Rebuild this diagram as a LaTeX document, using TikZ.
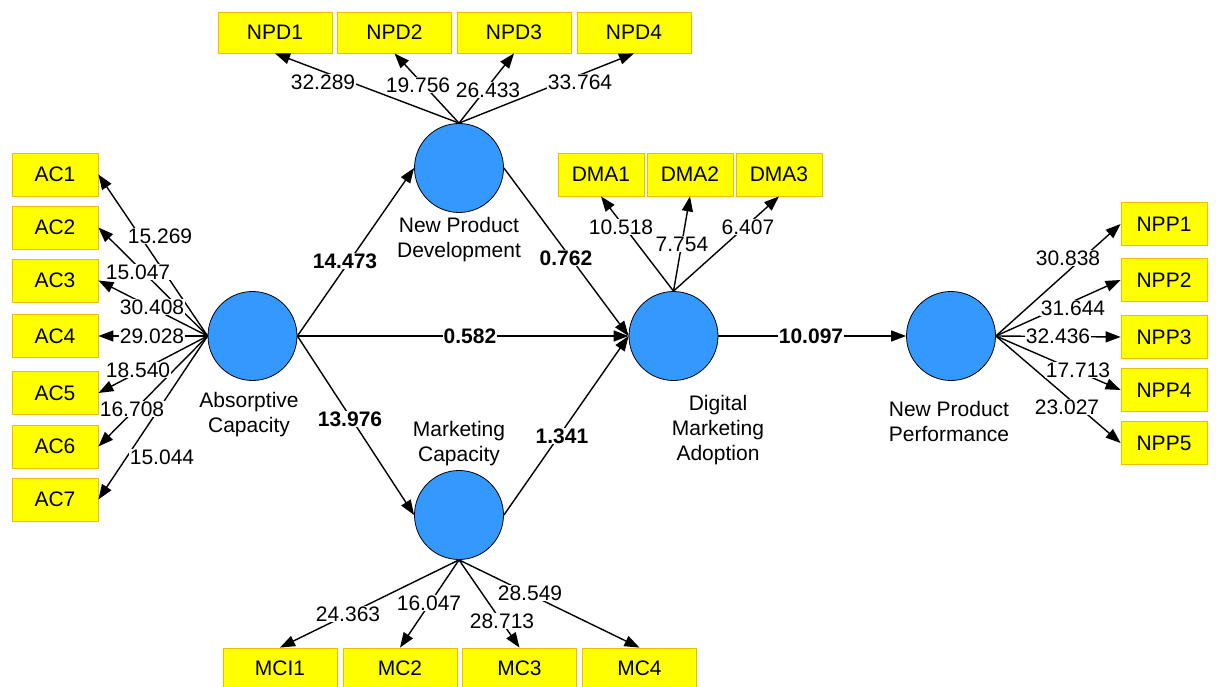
\documentclass[tikz,border=0pt]{standalone}
\usepackage{fontspec}
\setmainfont{Liberation Sans}
\usepackage{xcolor}
\usetikzlibrary{arrows.meta}
\usetikzlibrary{positioning}

\definecolor{lvblue}{RGB}{51,153,255}
\definecolor{mvyellow}{RGB}{255,255,0}
\definecolor{mvedge}{RGB}{240,190,0}

\tikzset{
  lv/.style={circle, draw=black, fill=lvblue, minimum size=89pt, inner sep=0pt, line width=0.8pt},
  mv/.style={rectangle, draw=mvedge, fill=mvyellow, line width=0.8pt, minimum width=86pt, minimum height=43pt, inner sep=0pt, font=\fontsize{21}{25}\selectfont},
  mvwide/.style={mv, minimum width=114pt, minimum height=41pt},
  load/.style={-{Triangle[length=15pt,width=11pt]}, line width=1.4pt},
  wt/.style={fill=white, inner sep=1pt, font=\fontsize{21}{25}\selectfont},
  coef/.style={fill=white, inner sep=1pt, font=\fontsize{21}{25}\selectfont\bfseries},
  lvname/.style={align=center, font=\fontsize{21}{25}\selectfont}
}

\begin{document}
\begin{tikzpicture}[x=1pt, y=-1pt]
        \useasboundingbox (0,0) rectangle (1216,687);

        % constructs
        \node[lv] (ac) at (252.5,336) {};
        \node[lv] (npd) at (459,168) {};
        \node[lv] (mc) at (459,515) {};
        \node[lv] (dma) at (673.5,336) {};
        \node[lv] (npp) at (951,336) {};

        % construct names
        \node[lvname] (acname) at (249,415) {Absorptive\\Capacity};
        \node[lvname] (npdname) at (459,240) {New Product\\Development};
        \node[lvname] (mcname) at (459,444) {Marketing\\Capacity};
        \node[lvname] (dmaname) at (718,430) {Digital\\Marketing\\Adoption};
        \node[lvname] (nppname) at (949,421) {New Product\\Performance};

        % indicators
        \node[mv] (ac1) at (55,174.5) {AC1};
        \node[mv] (ac2) at (55,227.5) {AC2};
        \node[mv] (ac3) at (55,280.5) {AC3};
        \node[mv] (ac4) at (55,336) {AC4};
        \node[mv] (ac5) at (55,393) {AC5};
        \node[mv] (ac6) at (55,446.5) {AC6};
        \node[mv] (ac7) at (55,499.5) {AC7};

        \node[mvwide] (npd1) at (275,32.5) {NPD1};
        \node[mvwide] (npd2) at (394.5,32.5) {NPD2};
        \node[mvwide] (npd3) at (514,32.5) {NPD3};
        \node[mvwide] (npd4) at (634,32.5) {NPD4};

        \node[mv] (dma1) at (601,174.5) {DMA1};
        \node[mv] (dma2) at (690,174.5) {DMA2};
        \node[mv] (dma3) at (779,174.5) {DMA3};

        \node[mv] (npp1) at (1164,224) {NPP1};
        \node[mv] (npp2) at (1164,280) {NPP2};
        \node[mv] (npp3) at (1164,337) {NPP3};
        \node[mv] (npp4) at (1164,390) {NPP4};
        \node[mv] (npp5) at (1164,443) {NPP5};

        \node[mvwide] (mc1) at (280,668.5) {MCI1};
        \node[mvwide] (mc2) at (400,668.5) {MC2};
        \node[mvwide] (mc3) at (519.5,668.5) {MC3};
        \node[mvwide] (mc4) at (639.5,668.5) {MC4};

        % outer loadings
        \draw[load] (ac.west) -- (ac1.east);
        \draw[load] (ac.west) -- (ac2.east);
        \draw[load] (ac.west) -- (ac3.east);
        \draw[load] (ac.west) -- (ac4.east);
        \draw[load] (ac.west) -- (ac5.east);
        \draw[load] (ac.west) -- (ac6.east);
        \draw[load] (ac.west) -- (ac7.east);

        \draw[load] (npd.north) -- (npd1.south);
        \draw[load] (npd.north) -- (npd2.south);
        \draw[load] (npd.north) -- (npd3.south);
        \draw[load] (npd.north) -- (npd4.south);

        \draw[load] (dma.north) -- (dma1.south);
        \draw[load] (dma.north) -- (dma2.south);
        \draw[load] (dma.north) -- (dma3.south);

        \draw[load] (npp.east) -- (npp1.west);
        \draw[load] (npp.east) -- (npp2.west);
        \draw[load] (npp.east) -- (npp3.west);
        \draw[load] (npp.east) -- (npp4.west);
        \draw[load] (npp.east) -- (npp5.west);

        \draw[load] (mc.south) -- (mc1.north);
        \draw[load] (mc.south) -- (mc2.north);
        \draw[load] (mc.south) -- (mc3.north);
        \draw[load] (mc.south) -- (mc4.north);

        % inner paths
        \draw[load] (ac.east) -- (npd.west);
        \draw[load] (ac.east) -- (mc.west);
        \draw[load] (ac.east) -- (dma.west);
        \draw[load] (npd.east) -- (dma.west);
        \draw[load] (mc.east) -- (dma.west);
        \draw[load] (dma.east) -- (npp.west);

        % t values
        \node[wt] (tac1) at (160,236) {15.269};
        \node[wt] (tac2) at (138,272) {15.047};
        \node[wt] (tac3) at (152,307) {30.408};
        \node[wt] (tac4) at (152,336) {29.028};
        \node[wt] (tac5) at (138,370) {18.540};
        \node[wt] (tac6) at (132,409) {16.708};
        \node[wt] (tac7) at (162,457) {15.044};

        \node[wt] (tnpd1) at (323,82) {32.289};
        \node[wt] (tnpd2) at (418,85) {19.756};
        \node[wt] (tnpd3) at (488,90) {26.433};
        \node[wt] (tnpd4) at (580,82) {33.764};

        \node[wt] (tdma1) at (621,227) {10.518};
        \node[wt] (tdma2) at (682,244) {7.754};
        \node[wt] (tdma3) at (748,227) {6.407};

        \node[wt] (tnpp1) at (1068,258) {30.838};
        \node[wt] (tnpp2) at (1073,308) {31.644};
        \node[wt] (tnpp3) at (1058,336) {32.436};
        \node[wt] (tnpp4) at (1078,370) {17.713};
        \node[wt] (tnpp5) at (1067,407) {23.027};

        \node[wt] (tmc1) at (348,614) {24.363};
        \node[wt] (tmc2) at (429,603) {16.047};
        \node[wt] (tmc3) at (502,621) {28.713};
        \node[wt] (tmc4) at (530,593) {28.549};

        \node[coef] (bacnpd) at (345,261) {14.473};
        \node[coef] (bacmc) at (350,419) {13.976};
        \node[coef] (bacdma) at (470,336) {0.582};
        \node[coef] (bnpddma) at (566,258) {0.762};
        \node[coef] (bmcdma) at (562,436) {1.341};
        \node[coef] (bdmanpp) at (811,336) {10.097};
    \end{tikzpicture}
\end{document}
